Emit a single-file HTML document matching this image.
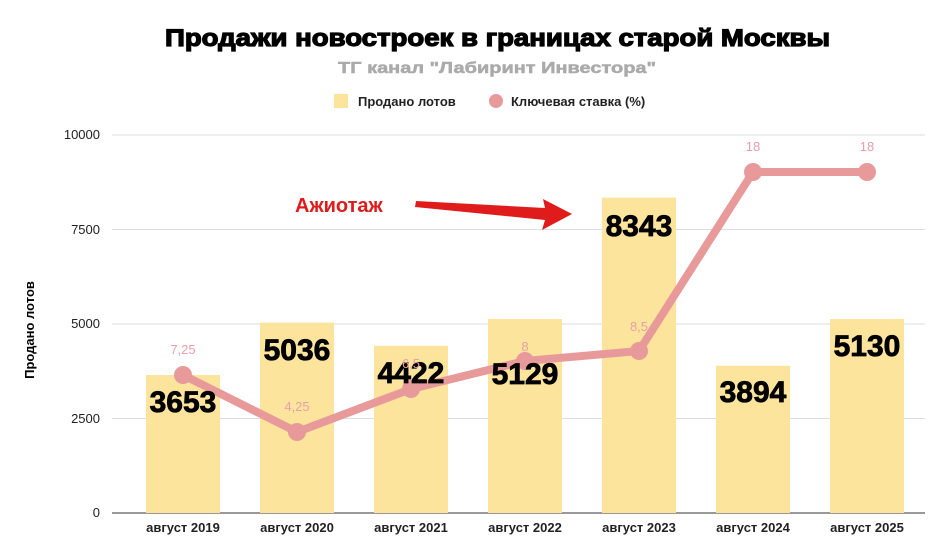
<!DOCTYPE html><html><head><meta charset="utf-8"><style>body{margin:0;background:#fff}svg{display:block;font-family:"Liberation Sans",sans-serif}</style></head><body>
<svg width="930" height="550" viewBox="0 0 930 550">
<text x="165" y="46" textLength="665" lengthAdjust="spacingAndGlyphs" font-size="24" font-weight="bold" fill="#000" stroke="#000" stroke-width="1.2">Продажи новостроек в границах старой Москвы</text>
<text x="338" y="73" textLength="318" lengthAdjust="spacingAndGlyphs" font-size="16" font-weight="bold" fill="#aaa" stroke="#aaa" stroke-width="0.5">ТГ канал "Лабиринт Инвестора"</text>
<rect x="334" y="94" width="14" height="14" fill="#fde49c"/>
<text x="358" y="106" font-size="13" font-weight="bold" fill="#222">Продано лотов</text>
<circle cx="496" cy="101" r="7" fill="#e89a9a"/>
<text x="511" y="106" font-size="13" font-weight="bold" fill="#222">Ключевая ставка (%)</text>
<g stroke="#ddd" stroke-width="1"><line x1="112" y1="135" x2="925" y2="135"/><line x1="112" y1="229.5" x2="925" y2="229.5"/><line x1="112" y1="324" x2="925" y2="324"/><line x1="112" y1="418.5" x2="925" y2="418.5"/></g>
<line x1="112" y1="513" x2="925" y2="513" stroke="#333"/>
<g font-size="13" fill="#222" text-anchor="end"><text x="100" y="139">10000</text><text x="100" y="234">7500</text><text x="100" y="328">5000</text><text x="100" y="423">2500</text><text x="100" y="517">0</text></g>
<text transform="translate(34,330) rotate(-90)" text-anchor="middle" font-size="13" font-weight="bold" fill="#000">Продано лотов</text>
<g fill="#fde49c"><rect x="146" y="375" width="74" height="138"/><rect x="260" y="322.6" width="74" height="190.4"/><rect x="374" y="345.8" width="74" height="167.2"/><rect x="488" y="319" width="74" height="194"/><rect x="602" y="197.6" width="74" height="315.4"/><rect x="716" y="365.8" width="74" height="147.2"/><rect x="830" y="319" width="74" height="194"/></g>
<g font-size="13" font-weight="bold" fill="#222" text-anchor="middle"><text x="183" y="532">август 2019</text><text x="297" y="532">август 2020</text><text x="411" y="532">август 2021</text><text x="525" y="532">август 2022</text><text x="639" y="532">август 2023</text><text x="753" y="532">август 2024</text><text x="867" y="532">август 2025</text></g>
<polyline points="183,375 297,432 411,389 525,361 639,351 753,172 867,172" fill="none" stroke="#e89a9a" stroke-width="8" stroke-linejoin="round"/>
<g fill="#e89a9a"><circle cx="183" cy="375" r="9"/><circle cx="297" cy="432" r="9"/><circle cx="411" cy="389" r="9"/><circle cx="525" cy="361" r="9"/><circle cx="639" cy="351" r="9"/><circle cx="753" cy="172" r="9"/><circle cx="867" cy="172" r="9"/></g>
<g font-size="30" font-weight="bold" fill="#000" stroke="#000" stroke-width="0.8" text-anchor="middle"><text x="183" y="412">3653</text><text x="297" y="360">5036</text><text x="411" y="383">4422</text><text x="525" y="384">5129</text><text x="639" y="236">8343</text><text x="753" y="402">3894</text><text x="867" y="356">5130</text></g>
<g font-size="13" fill="#e8a0a8" text-anchor="middle"><text x="183" y="354">7,25</text><text x="297" y="411">4,25</text><text x="411" y="368">6,5</text><text x="525" y="351">8</text><text x="639" y="331">8,5</text><text x="753" y="151">18</text><text x="867" y="151">18</text></g>
<text x="295" y="212" font-size="20" font-weight="bold" fill="#e01b1b">Ажиотаж</text>
<polygon points="416,201 545,208 543,199 572,214 542,230 545,220 415,207" fill="#e01b1b"/>
</svg></body></html>
